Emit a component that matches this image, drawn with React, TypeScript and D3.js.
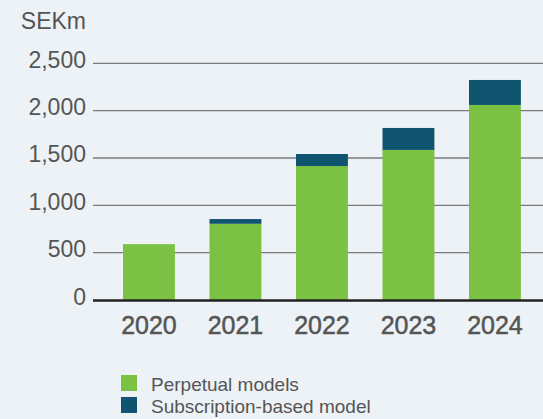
import React, { useRef, useEffect } from 'react';
import { select, scaleBand, scaleLinear, stack } from 'd3';

const years = ['2020', '2021', '2022', '2023', '2024'];
const perpetual = [590, 805, 1415, 1585, 2060];
const subscription = [0, 50, 127, 232, 264];
const yTicks = [0, 500, 1000, 1500, 2000, 2500];
const seriesNames = ['Perpetual models', 'Subscription-based model'];
const seriesColors = ['#7bc143', '#115470'];

const W = 543;
const H = 419;

function App() {
  const svgRef = useRef<SVGSVGElement>(null);

  useEffect(() => {
    const svg = select(svgRef.current);
    svg.selectAll('*').remove();

    const textColor = '#555';
    const font = '"Liberation Sans", Arial, Helvetica, sans-serif';

    // background
    svg.append('rect').attr('width', W).attr('height', H).attr('fill', '#edf2f6');

    // scales
    const x = scaleBand()
      .domain(years)
      .range([105.7, 538.2])
      .paddingInner(0.4)
      .paddingOuter(0.2);

    const y = scaleLinear().domain([0, 2500]).range([300, 63.3]);

    // gridlines + y labels
    svg
      .selectAll('.grid')
      .data(yTicks.filter((t) => t > 0))
      .join('line')
      .attr('class', 'grid')
      .attr('x1', 93)
      .attr('x2', W)
      .attr('y1', (d) => y(d))
      .attr('y2', (d) => y(d))
      .attr('stroke', '#7a7a7a')
      .attr('stroke-width', 1.3);

    svg
      .selectAll('.ylabel')
      .data(yTicks)
      .join('text')
      .attr('class', 'ylabel')
      .attr('x', 86)
      .attr('y', (d) => y(d) + 4.5)
      .attr('text-anchor', 'end')
      .attr('font-family', font)
      .attr('font-size', 23)
      .attr('fill', textColor)
      .text((d) => d.toLocaleString('en-US'));

    svg
      .append('text')
      .attr('x', 86)
      .attr('y', 29)
      .attr('text-anchor', 'end')
      .attr('font-family', font)
      .attr('font-size', 23)
      .attr('fill', textColor)
      .text('SEKm');

    // stacked bars
    const rows = years.map((yr, i) => ({ year: yr, p: perpetual[i], s: subscription[i] }));
    const layers = stack<any>().keys(['p', 's'])(rows);

    svg
      .selectAll('.layer')
      .data(layers)
      .join('g')
      .attr('class', 'layer')
      .attr('fill', (d, i) => seriesColors[i])
      .selectAll('rect')
      .data((d) => d)
      .join('rect')
      .attr('x', (d: any) => x(d.data.year))
      .attr('width', x.bandwidth())
      .attr('y', (d) => y(d[1]))
      .attr('height', (d) => y(d[0]) - y(d[1]));

    // baseline
    svg
      .append('line')
      .attr('x1', 93)
      .attr('x2', W)
      .attr('y1', y(0) + 0.5)
      .attr('y2', y(0) + 0.5)
      .attr('stroke', '#222')
      .attr('stroke-width', 2.5);

    // x labels, a bit heavier than the tick labels
    svg
      .selectAll('.xlabel')
      .data(years)
      .join('text')
      .attr('class', 'xlabel')
      .attr('x', (d) => x(d) + x.bandwidth() / 2)
      .attr('y', 334)
      .attr('text-anchor', 'middle')
      .attr('font-family', font)
      .attr('font-size', 25)
      .attr('fill', textColor)
      .attr('stroke', textColor)
      .attr('stroke-width', 0.5)
      .text((d) => d);

    // legend
    const legend = svg
      .selectAll('.legend')
      .data(seriesNames)
      .join('g')
      .attr('class', 'legend')
      .attr('transform', (d, i) => `translate(121, ${375 + i * 22})`);

    legend
      .append('rect')
      .attr('width', 16)
      .attr('height', 16)
      .attr('fill', (d, i) => seriesColors[i]);

    legend
      .append('text')
      .attr('x', 30)
      .attr('y', 16)
      .attr('font-family', font)
      .attr('font-size', 19)
      .attr('fill', textColor)
      .text((d) => d);
  }, []);

  return (
    <div style={{ position: 'absolute', left: 0, top: 0 }}>
      <svg ref={svgRef} width={W} height={H} style={{ display: 'block' }}></svg>
    </div>
  );
}

export default App;
